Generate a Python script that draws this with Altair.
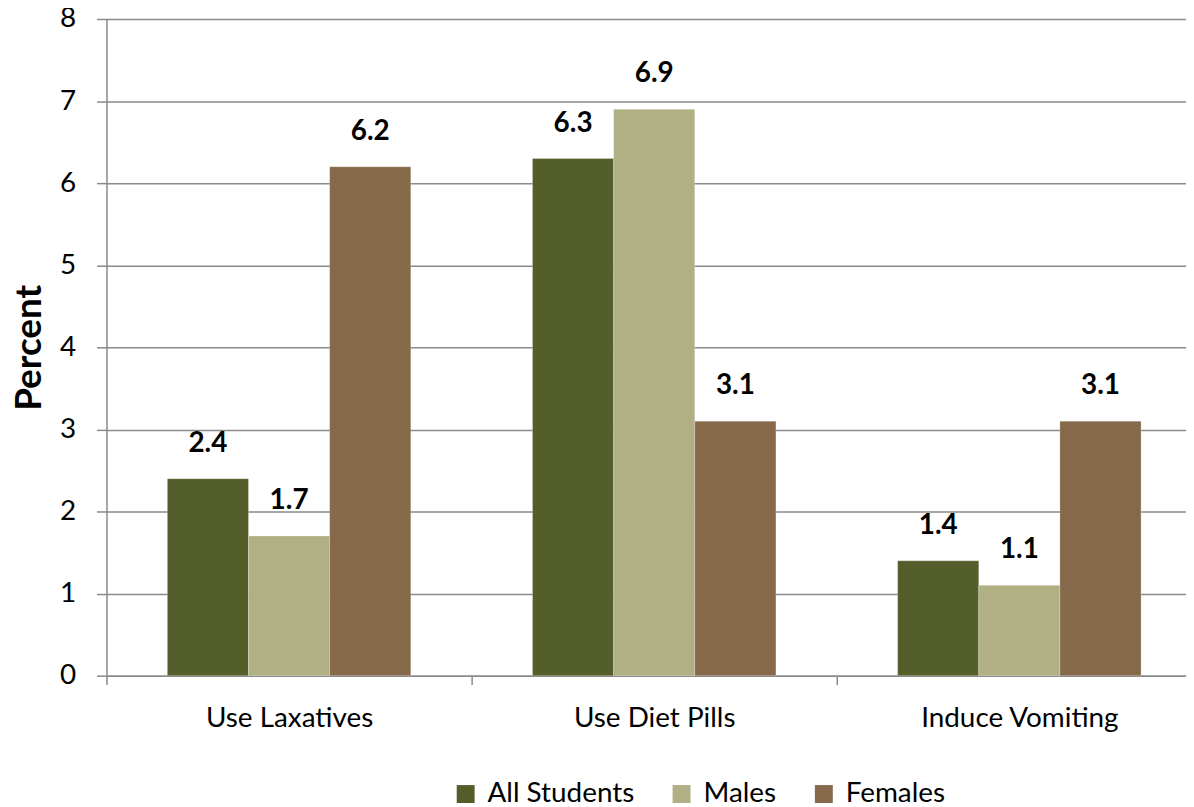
import altair as alt
import pandas as pd

categories = ["Use Laxatives", "Use Diet Pills", "Induce Vomiting"]
groups = ["All Students", "Males", "Females"]
all_students = [2.4, 6.3, 1.4]
males = [1.7, 6.9, 1.1]
females = [6.2, 3.1, 3.1]
colors = ["#545E2B", "#B1AF84", "#86694B"]
y_ticks = [0, 1, 2, 3, 4, 5, 6, 7, 8]

rows = []
for g, vals in zip(groups, [all_students, males, females]):
    for c, v in zip(categories, vals):
        rows.append({"category": c, "group": g, "value": v, "label": f"{v:.1f}"})
df = pd.DataFrame(rows)

FONT = "Lato"
GRID = "#8a8a8a"

x_enc = alt.X(
    "category:N",
    sort=categories,
    scale=alt.Scale(range=[0, 1101], paddingInner=0, paddingOuter=0),
    axis=alt.Axis(
        title=None,
        labelAngle=0,
        tickBand="extent",
        grid=False,
        domainColor=GRID,
        domainWidth=1.5,
        tickColor=GRID,
        tickWidth=1.5,
        tickSize=9,
        labelFont=FONT,
        labelFontSize=28,
        labelColor="#000000",
        labelPadding=20,
        labelLimit=500,
    ),
)
xoff_enc = alt.XOffset(
    "group:N", sort=groups, scale=alt.Scale(paddingInner=0, paddingOuter=0.75)
)
y_enc = alt.Y(
    "value:Q",
    scale=alt.Scale(domain=[0, 8], nice=False),
    axis=alt.Axis(
        values=y_ticks,
        format="d",
        title="Percent",
        titleFont=FONT,
        titleFontSize=37,
        titleFontWeight="bold",
        titleColor="#000000",
        titleAngle=270,
        titleAlign="center",
        titleBaseline="alphabetic",
        titleX=-66,
        titleY=330,
        grid=True,
        gridColor=GRID,
        gridWidth=1.5,
        domainColor=GRID,
        domainWidth=1.5,
        tickColor=GRID,
        tickWidth=1.5,
        tickSize=10,
        labelFont=FONT,
        labelFontSize=28,
        labelColor="#000000",
        labelPadding=21,
    ),
)

base = alt.Chart(df)

bars = base.mark_bar(stroke="#ffffff", strokeWidth=0.5, strokeOpacity=0.5).encode(
    x=x_enc,
    xOffset=xoff_enc,
    y=y_enc,
    color=alt.Color(
        "group:N",
        sort=groups,
        scale=alt.Scale(domain=groups, range=colors),
        legend=alt.Legend(
            title=None,
            orient="none",
            direction="horizontal",
            legendX=347,
            legendY=765,
            symbolType="square",
            symbolSize=324,
            symbolStrokeWidth=0,
            labelFont=FONT,
            labelFontSize=28,
            labelColor="#000000",
            labelOffset=8,
            columnPadding=33,
        ),
    ),
)

labels = base.mark_text(
    font=FONT, fontSize=28, fontWeight="bold", color="#000000", dy=-35, baseline="middle"
).encode(
    x=alt.X("category:N", sort=categories),
    xOffset=alt.XOffset("group:N", sort=groups),
    y=alt.Y("value:Q"),
    text="label:N",
)

chart = (
    alt.layer(bars, labels)
    .properties(
        width=1085,
        height=660,
        autosize=alt.AutoSizeParams(type="none"),
        padding={"left": 99, "top": 9, "right": 0, "bottom": 130},
    )
    .configure_view(stroke=None)
)

chart.save("out.html", embed_options={"renderer": "svg", "actions": False})
